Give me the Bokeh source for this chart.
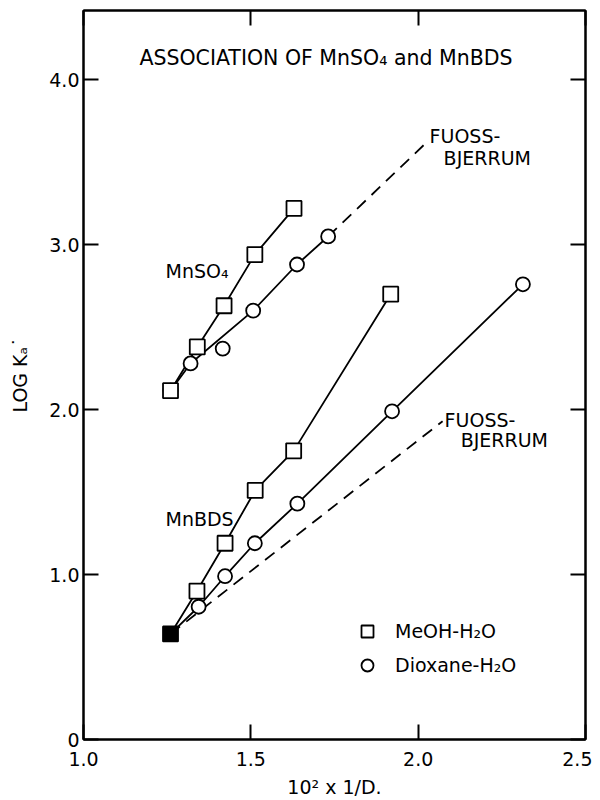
import math
from bokeh.plotting import figure
from bokeh.models import Label, FixedTicker, LinearAxis, Legend, LegendItem
from bokeh.embed import file_html
from bokeh.resources import INLINE

# ---- data ----
mnso4_meoh_x = [1.26, 1.340, 1.420, 1.512, 1.629]
mnso4_meoh_y = [2.115, 2.38, 2.63, 2.94, 3.22]

mnso4_diox_x = [1.26, 1.320, 1.416, 1.507, 1.638, 1.731]
mnso4_diox_y = [2.115, 2.28, 2.37, 2.60, 2.88, 3.05]
mnso4_diox_on_line = [True, True, False, True, True, True]

mnbds_meoh_x = [1.26, 1.339, 1.423, 1.513, 1.628, 1.918]
mnbds_meoh_y = [0.64, 0.90, 1.19, 1.51, 1.75, 2.70]

mnbds_diox_x = [1.26, 1.344, 1.423, 1.512, 1.639, 1.922, 2.313]
mnbds_diox_y = [0.64, 0.805, 0.99, 1.19, 1.43, 1.99, 2.76]

water_x = [1.26]
water_y = [0.64]

fb_upper_x = [1.731, 2.030]
fb_upper_y = [3.05, 3.63]
fb_lower_x = [1.26, 2.073]
fb_lower_y = [0.64, 1.93]

x_ticks = [1.0, 1.5, 2.0, 2.5]
x_tick_labels = ["1.0", "1.5", "2.0", "2.5"]
y_ticks = [0, 1, 2, 3, 4]
y_tick_labels = ["0", "1.0", "2.0", "3.0", "4.0"]

FONT = "DejaVu Sans"

p = figure(width=592, height=800, x_range=(1.0, 2.5), y_range=(0, 4.42),
           output_backend="svg", toolbar_location=None,
           min_border_left=83, min_border_right=7, min_border_top=10, min_border_bottom=60)
p.grid.visible = False
p.outline_line_color = "black"
p.outline_line_width = 2
p.background_fill_color = "white"
p.border_fill_color = "white"

for ax in (p.xaxis[0], p.yaxis[0]):
    ax.major_tick_in = 15
    ax.major_tick_out = 0
    ax.minor_tick_line_color = None
    ax.major_tick_line_width = 2
    ax.axis_line_width = 2
    ax.major_label_text_font = FONT
    ax.major_label_text_font_size = "19px"
    ax.major_label_text_color = "black"
    ax.axis_label_text_font = FONT
    ax.axis_label_text_font_size = "19px"
    ax.axis_label_text_font_style = "normal"
    ax.axis_label_text_color = "black"

p.xaxis.ticker = FixedTicker(ticks=x_ticks)
p.yaxis.ticker = FixedTicker(ticks=y_ticks)
p.xaxis.major_label_overrides = {t: l for t, l in zip(x_ticks, x_tick_labels)}
p.yaxis.major_label_overrides = {t: l for t, l in zip(y_ticks, y_tick_labels)}
p.xaxis.major_label_standoff = 12
p.yaxis.major_label_standoff = 4
p.xaxis.axis_label = "10\u00b2 x 1/D."
p.xaxis.axis_label_standoff = 7
p.yaxis.axis_label = "LOG K\u2090\u02d9"
p.yaxis.axis_label_standoff = 15

top_ax = LinearAxis(ticker=FixedTicker(ticks=x_ticks), major_tick_in=15, major_tick_out=0,
                    minor_tick_line_color=None, major_tick_line_width=2, axis_line_width=2,
                    major_label_text_font_size="1px", major_label_text_color=None,
                    major_label_standoff=0)
right_ax = LinearAxis(ticker=FixedTicker(ticks=y_ticks), major_tick_in=15, major_tick_out=0,
                      minor_tick_line_color=None, major_tick_line_width=2, axis_line_width=2,
                      major_label_text_font_size="1px", major_label_text_color=None,
                      major_label_standoff=0)
p.add_layout(top_ax, "above")
p.add_layout(right_ax, "right")

LW = 1.8
# Fuoss-Bjerrum dashed lines
p.line(fb_upper_x, fb_upper_y, line_color="black", line_width=1.8, line_dash="12 8")
p.line(fb_lower_x, fb_lower_y, line_color="black", line_width=1.8, line_dash="12 8")

# solid connecting lines
p.line(mnso4_meoh_x, mnso4_meoh_y, line_color="black", line_width=LW)
lx = [x for x, k in zip(mnso4_diox_x, mnso4_diox_on_line) if k]
ly = [y for y, k in zip(mnso4_diox_y, mnso4_diox_on_line) if k]
p.line(lx, ly, line_color="black", line_width=LW)
p.line(mnbds_meoh_x, mnbds_meoh_y, line_color="black", line_width=LW)
p.line(mnbds_diox_x, mnbds_diox_y, line_color="black", line_width=LW)

# markers
p.scatter(mnso4_diox_x, mnso4_diox_y, marker="circle", size=14, fill_color="white",
          line_color="black", line_width=LW)
p.scatter(mnso4_meoh_x, mnso4_meoh_y, marker="square", size=15, fill_color="white",
          line_color="black", line_width=LW)
r_circ = p.scatter(mnbds_diox_x[1:], mnbds_diox_y[1:], marker="circle", size=14, fill_color="white",
                   line_color="black", line_width=LW)
r_sq = p.scatter(mnbds_meoh_x[1:], mnbds_meoh_y[1:], marker="square", size=15, fill_color="white",
                 line_color="black", line_width=LW)
p.scatter(water_x, water_y, marker="square", size=15, fill_color="black",
          line_color="black", line_width=LW)

legend = Legend(items=[LegendItem(label="MeOH-H\u2082O", renderers=[r_sq]),
                       LegendItem(label="Dioxane-H\u2082O", renderers=[r_circ])],
                location=(269, 59), glyph_width=30, glyph_height=30, label_standoff=13,
                spacing=4, padding=0, margin=0, border_line_color=None,
                background_fill_alpha=0, label_text_font=FONT, label_text_font_size="19px",
                label_text_color="black", label_height=30)
p.add_layout(legend, "center")


def lab(x, y, text, size="19px", align="left"):
    p.add_layout(Label(x=x, y=y, text=text, text_font=FONT, text_font_size=size,
                       text_align=align, text_baseline="middle", text_color="black"))


lab(1.167, 4.132, "ASSOCIATION OF MnSO\u2084 and MnBDS", size="20.5px")
lab(1.245, 2.843, "MnSO\u2084")
lab(1.245, 1.337, "MnBDS")
lab(2.034, 3.66, "FUOSS-")
lab(2.076, 3.527, "BJERRUM")
lab(2.079, 1.936, "FUOSS-")
lab(2.127, 1.815, "BJERRUM")

open("out.html", "w").write(file_html(p, INLINE))
